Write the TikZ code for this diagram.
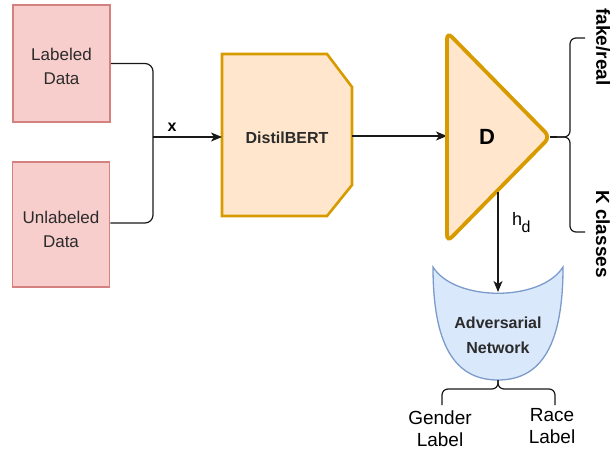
\documentclass[tikz,border=0pt]{standalone}
\usepackage{fontspec}
\setmainfont{Liberation Sans}
\usetikzlibrary{arrows.meta,backgrounds}

\definecolor{redfill}{HTML}{F8CECC}
\definecolor{redline}{HTML}{D4827F}
\definecolor{orfill}{HTML}{FFE6CC}
\definecolor{orline}{HTML}{D79B00}
\definecolor{bluefill}{HTML}{DAE8FC}
\definecolor{blueline}{HTML}{7B9BCB}
\definecolor{txt}{HTML}{2B2B2B}

\begin{document}
\begin{tikzpicture}[x=1pt,y=-1pt,
  databox/.style={draw=redline, fill=redfill, line width=1.8pt,
    minimum width=97pt, inner sep=0pt},
  datatext/.style={inner sep=0pt, align=center, text=txt,
    font=\fontsize{17}{24}\selectfont},
  hidden/.style={inner sep=0pt, outer sep=0pt},
  link/.style={line width=1.2pt, draw=black!90},
  tip/.style={-{Stealth[length=11pt,width=9pt,inset=3pt]}},
  bracket/.style={link, rounded corners=6pt},
  label/.style={inner sep=0pt, align=center}
]
\useasboundingbox (0,0) rectangle (615,455);

% input data sources
\node[databox, minimum height=117pt] (lab) at (61.5,63.5) {};
\node[datatext] (labtxt) at ([yshift=-2.5pt]lab.center) {Labeled\\Data};
\node[databox, minimum height=125pt] (unlab) at (61,224.5) {};
\node[datatext] (unlabtxt) at ([yshift=-4.5pt]unlab.center) {Unlabeled\\Data};

% merge of both sources into x
\coordinate (junc) at (153,137);
\draw[link, rounded corners=8pt] (lab.east) -| (junc);
\draw[link, rounded corners=8pt] (unlab.east |- 0,223) -| (junc);

% encoder with chamfered right corners
\node[hidden, minimum width=130pt, minimum height=162pt] (bert) at (287,135) {};
\draw[draw=orline, fill=orfill, line width=2.6pt, line join=miter]
  (bert.north west) -- ([xshift=-25pt]bert.north east) -- ([yshift=-33pt]bert.north east)
  -- ([yshift=31pt]bert.south east) -- ([xshift=-25pt]bert.south east) -- (bert.south west) -- cycle;
\node[label, text=txt, font=\bfseries\fontsize{16}{16}\selectfont] (berttxt)
  at ([yshift=-2.5pt]bert.center) {DistilBERT};
\draw[link, tip] (junc) -- (junc -| bert.west);
\node[label, font=\bfseries\fontsize{16}{16}\selectfont] (xlab) at (172,127) {x};

% discriminator
\node[hidden, minimum width=103pt, minimum height=210pt] (disc) at (498.5,137) {};
\draw[link, tip] (bert.east |- 0,136) -- (disc.west |- 0,136);
\draw[draw=orline, fill=orfill, line width=3.8pt, rounded corners=7pt]
  (disc.north west) -- (disc.east) -- (disc.south west) -- cycle;
\node[label, font=\bfseries\fontsize{22}{22}\selectfont] (dlab) at (487,137) {D};

% output bracket and its labels
\coordinate (btip) at (557,137);
\coordinate (bmid) at (570,137);
\coordinate (btop) at (585,38);
\coordinate (bbot) at (585,232);
\draw[link] (disc.east) -- (btip);
\draw[bracket] (btip) -- (bmid) |- (btop);
\draw[bracket] (btip) -- (bmid) |- (bbot);
\node[label, rotate=-90, font=\bfseries\fontsize{19}{19}\selectfont] (fr) at (603,47) {fake/real};
\node[label, rotate=-90, font=\bfseries\fontsize{19}{19}\selectfont] (kc) at (603,234) {K classes};

% adversarial branch
\coordinate (hdtop) at (498,192);
\node[hidden, minimum width=130pt, minimum height=113pt] (adv) at (498,323.5) {};
\coordinate (advdip) at (498,292);
\draw[draw=blueline, fill=bluefill, line width=1.3pt]
  (adv.north west) .. controls +(0,75) and +(-45,0) .. (adv.south)
  .. controls +(45,0) and +(0,75) .. (adv.north east)
  .. controls +(-22,35) and +(22,35) .. (adv.north west) -- cycle;
\draw[link, tip] (hdtop) -- (advdip);
\node[label, anchor=base west, font=\fontsize{18}{18}\selectfont] (hd) at (512,225)
  {h\kern-0.5pt\raisebox{-7pt}{\fontsize{16}{16}\selectfont d}};
\node[label, text=txt, font=\bfseries\fontsize{16}{25}\selectfont] (advtxt) at (498,335)
  {Adversarial\\Network};

% protected attribute labels
\node[label, font=\fontsize{19}{22}\selectfont] (gender) at (440,429) {Gender\\Label};
\node[label, font=\fontsize{19}{22}\selectfont] (race) at (552,426.5) {Race\\Label};
\coordinate (gend) at (442,405);
\coordinate (raced) at (555,405);
\draw[bracket] (adv.south) -- ++(0,9) -| (gend);
\draw[bracket] (adv.south) -- ++(0,9) -| (raced);

\end{tikzpicture}
\end{document}
